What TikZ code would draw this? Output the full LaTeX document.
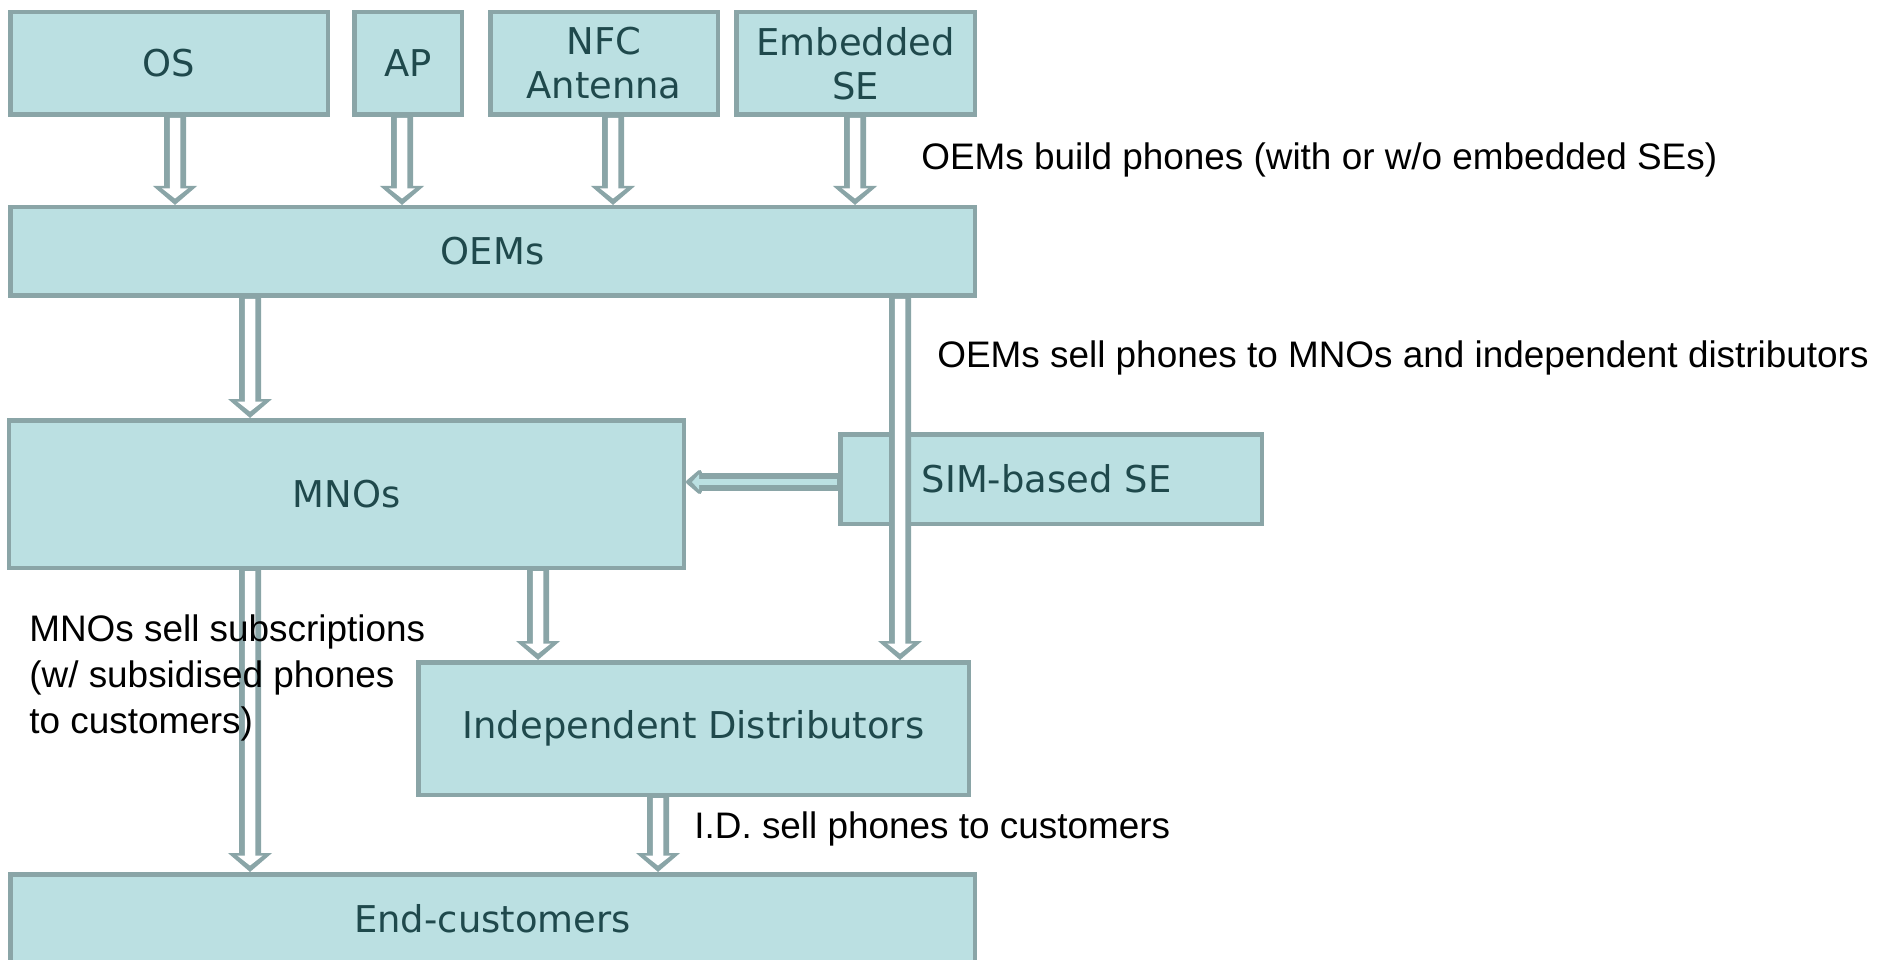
\documentclass[tikz,border=0pt]{standalone}
\usepackage{fontspec}
\setmainfont{Liberation Sans}
\newfontfamily\boxfont{DejaVu Sans}
\usetikzlibrary{arrows.meta}

\definecolor{boxfill}{RGB}{187,224,226}
\definecolor{boxline}{RGB}{138,165,167}
\definecolor{boxtext}{RGB}{31,73,76}

\tikzset{
  actor/.style={draw=boxline, fill=boxfill, line width=0.09cm, text=boxtext, inner sep=0pt,
    align=center, font=\boxfont\fontsize{21}{25}\selectfont},
  flow/.style={draw=boxline, line width=0.44cm, -{Triangle[length=0.38cm, width=0.86cm]},
    postaction={draw=white, line width=0.21cm, shorten <=0.02cm, shorten >=0.13cm,
      -{Triangle[length=0.2cm, width=0.5cm]}}},
  simflow/.style={draw=boxline, line width=0.35cm, -{Triangle[length=0.34cm, width=0.56cm, round]},
    postaction={draw=boxfill, line width=0.12cm, shorten <=0.02cm, shorten >=0.12cm,
      -{Triangle[length=0.14cm, width=0.3cm]}}},
  note/.style={anchor=west, inner sep=0pt, align=left, font=\fontsize{21}{26}\selectfont}
}

\begin{document}
\begin{tikzpicture}
\useasboundingbox (0,0) rectangle (37.66,-19.2);

% Suppliers on top
\node[actor, minimum width=6.35cm, minimum height=2.05cm] (os) at (3.38,-1.27) {OS};
\node[actor, minimum width=2.15cm, minimum height=2.05cm] (ap) at (8.16,-1.27) {AP};
\node[actor, minimum width=4.55cm, minimum height=2.05cm] (nfc) at (12.08,-1.27) {NFC\\Antenna};
\node[actor, minimum width=4.77cm, minimum height=2.05cm] (ese) at (17.11,-1.27) {Embedded\\SE};

% The chain below
\node[actor, minimum width=19.29cm, minimum height=1.77cm] (oems) at (9.85,-5.03) {OEMs};
\node[actor, minimum width=13.49cm, minimum height=2.95cm] (mnos) at (6.93,-9.88) {MNOs};
\node[actor, align=left, inner xsep=1.63cm, text width=5.17cm, minimum height=1.79cm] (sim) at (21.02,-9.58) {SIM-based SE};
\node[actor, minimum width=11.01cm, minimum height=2.65cm] (idist) at (13.87,-14.57) {Independent Distributors};
\node[actor, minimum width=19.29cm, minimum height=1.79cm] (endc) at (9.85,-18.38) {End-customers};

% Flows between them
\draw[flow] ([xshift=0.12cm]os.south) -- ([xshift=-6.35cm]oems.north);
\draw[flow] ([xshift=-0.12cm]ap.south) -- ([xshift=-1.81cm]oems.north);
\draw[flow] ([xshift=0.18cm]nfc.south) -- ([xshift=2.41cm]oems.north);
\draw[flow] ([xshift=-0.01cm]ese.south) -- ([xshift=7.25cm]oems.north);
\draw[flow] ([xshift=-4.85cm]oems.south) -- ([xshift=-1.93cm]mnos.north);
\draw[flow] ([xshift=8.15cm]oems.south) -- ([xshift=4.13cm]idist.north);
\draw[simflow] ([yshift=-0.06cm]sim.west) -- ([yshift=0.24cm]mnos.east);
\draw[flow] ([xshift=-1.93cm]mnos.south) -- ([xshift=-4.85cm]endc.north);
\draw[flow] ([xshift=3.83cm]mnos.south) -- ([xshift=-3.11cm]idist.north);
\draw[flow] ([xshift=-0.71cm]idist.south) -- ([xshift=3.31cm]endc.north);

% Notes
\node[note] (n1) at (18.42,-3.20) {OEMs build phones (with or w/o embedded SEs)};
\node[note] (n2) at (18.74,-7.16) {OEMs sell phones to MNOs and independent distributors};
\node[note] (n3) at (0.58,-13.56) {MNOs sell subscriptions\\(w/ subsidised phones\\to customers)};
\node[note] (n4) at (13.88,-16.58) {I.D. sell phones to customers};
\end{tikzpicture}
\end{document}
